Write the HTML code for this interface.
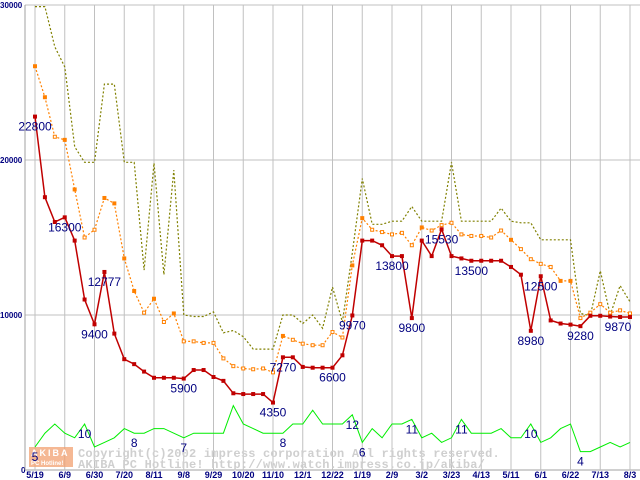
<!DOCTYPE html>
<html><head><meta charset="utf-8"><style>
html,body{margin:0;padding:0;background:#fff;}
svg{display:block;}
text{font-family:"Liberation Sans",sans-serif;}
</style></head><body>
<svg id="chart" width="640" height="480" viewBox="0 0 640 480" xmlns="http://www.w3.org/2000/svg">
<g id="grid"></g>
<g id="watermark">
<rect x="29" y="447" width="44" height="20" fill="#f2a070" opacity="0.75"/>
<text x="31" y="456" font-size="9" font-weight="bold" fill="#fff" letter-spacing="2">AKIBA</text>
<text x="31" y="465" font-size="6" font-weight="bold" fill="#fff">PC Hotline!</text>
<text x="78" y="457" font-size="12" font-weight="bold" fill="#cfcfcf" style="font-family:'Liberation Mono',monospace" letter-spacing="0.2">Copyright(c)2002 impress corporation All rights reserved.</text>
<text x="78" y="468" font-size="12" font-weight="bold" fill="#cfcfcf" style="font-family:'Liberation Mono',monospace" letter-spacing="0.2">AKIBA PC Hotline!  http://www.watch.impress.co.jp/akiba/</text>
</g>
<g id="series"></g>
<g id="labels"></g>
</svg>
<script>
const dates=["5/19","6/9","6/30","7/20","8/11","9/8","9/29","10/20","11/10","12/1","12/22","1/19","2/9","3/2","3/23","4/13","5/11","6/1","6/22","7/13","8/3"];
const yTicks=[0,10000,20000,30000];
const redVals=[22800,17600,16000,16300,14800,11000,9400,12777,8800,7150,6830,6350,5950,5950,5950,5900,6450,6450,6000,5750,4950,4900,4900,4900,4350,7270,7270,6650,6600,6600,6600,7400,9970,14800,14800,14500,13800,13800,9800,14800,13800,15530,13800,13650,13500,13500,13500,13500,13100,12600,8980,12500,9650,9450,9380,9280,9950,9950,9900,9870,9870];
const orangeVals=[26050,24050,21500,21300,18100,15000,15500,17550,17200,13650,11550,10150,11050,9550,10100,8300,8300,8200,8200,7200,6700,6550,6500,6550,6300,8650,8400,8150,8050,8050,8900,8550,13200,16250,15500,15350,15200,15300,14500,15650,15450,15800,15950,15200,15100,15100,15000,15450,14850,14250,13600,13300,13100,12200,12200,9800,10150,10700,10150,10300,10100];
const orangeFilled=[1,1,0,1,1,0,0,1,1,1,1,0,1,0,1,0,0,0,0,0,0,0,0,0,0,1,0,0,0,0,0,0,1,1,0,0,0,0,0,1,0,0,0,0,0,0,0,0,1,0,0,0,0,1,1,0,0,0,0,0,0];
const oliveVals=[29900,29900,27300,26000,20850,19850,19850,24900,24900,19850,19850,12900,19800,12600,19350,10000,9900,9900,10200,8850,9000,8600,7800,7800,7800,10000,10000,9450,10000,9150,11800,9550,14000,18800,15850,15850,16050,16050,17000,16050,16050,16050,19850,16050,16050,16050,16050,16900,16050,15950,15950,14850,14850,14850,14850,10100,9950,12850,10000,11900,10850];
const greenVals=[5,8,10,8,7,10,5,6,7,9,8,8,9,9,8,7,8,8,8,8,14,10,9,8,8,8,10,10,13,10,10,10,12,6,9,7,10,10,11,7,8,6,7,11,8,8,8,9,7,7,10,6,7,9,10,4,4,5,6,5,6];
const redLabelIdx=[0,3,6,7,15,24,25,30,32,36,38,41,44,50,51,55,60];
const greenLabelIdx=[0,5,10,15,25,32,33,38,43,50,55];

const NS="http://www.w3.org/2000/svg";
const X0=35,X1=630,Y0=470,Y1=5;
const n=redVals.length;
function xs(i){return X0+i*(X1-X0)/(n-1);}
function ys(v){return Y0-(v/30000)*(Y0-Y1);}
function gys(v){return Y0-v*4.6;}
function mk(tag,attrs,parent){const e=document.createElementNS(NS,tag);for(const k in attrs)e.setAttribute(k,attrs[k]);parent.appendChild(e);return e;}
const grid=document.getElementById('grid'),ser=document.getElementById('series'),lab=document.getElementById('labels');

yTicks.forEach(t=>{
  const l=mk('line',{x1:25,x2:640,y1:ys(t),y2:ys(t),stroke:t===0?'#a0a0a0':'#c0c0c0','stroke-width':1},grid);
  
  
  const tx=mk('text',{x:t===0?21:0,y:ys(t)+3,'font-size':8,'font-weight':'bold',fill:'#000080'},grid);
  tx.textContent=String(t);
  
  
});
const ax=mk('line',{x1:25,x2:25,y1:5,y2:470,stroke:'#a0a0a0'},grid);


dates.forEach((d,k)=>{
  const x=xs(k*3);
  const l=mk('line',{x1:x,x2:x,y1:5,y2:470,stroke:'#c0c0c0'},grid);
  
  
  const tx=mk('text',{x:x,y:478,'font-size':9,'text-anchor':'middle',fill:'#000080','font-weight':'bold'},grid);
  tx.textContent=d;
  
  
});
function pts(arr,f){return arr.map((v,i)=>xs(i).toFixed(1)+','+f(v).toFixed(1)).join(' ');}
const gl=mk('polyline',{points:pts(greenVals,gys),fill:'none',stroke:'#00ee00','stroke-width':1},ser);


const ol=mk('polyline',{points:pts(oliveVals,ys),fill:'none',stroke:'#808000','stroke-width':1.2,'stroke-dasharray':'2,2'},ser);


const orl=mk('polyline',{points:pts(orangeVals,ys),fill:'none',stroke:'#ff8000','stroke-width':1.2,'stroke-dasharray':'2,2'},ser);


orangeVals.forEach((v,i)=>{
  const f=orangeFilled[i];
  const r=mk('rect',{x:xs(i)-(f?2:1.5),y:ys(v)-(f?2:1.5),width:f?4:3,height:f?4:3,fill:f?'#ff8000':'#fff',stroke:'#ff8000','stroke-width':f?0:1},ser);
  
  
});
const rl=mk('polyline',{points:pts(redVals,ys),fill:'none',stroke:'#c00000','stroke-width':1.5},ser);


redVals.forEach((v,i)=>{
  const r=mk('rect',{x:xs(i)-2,y:ys(v)-2,width:4,height:4,fill:'#c00000'},ser);
  
  
});
redLabelIdx.forEach(i=>{
  let x=xs(i);if(x>618)x=618;
  const tx=mk('text',{x:x,y:ys(redVals[i])+14,'font-size':12,'text-anchor':'middle',fill:'#000080'},lab);
  tx.textContent=String(redVals[i]);
  
  
});
greenLabelIdx.forEach(i=>{
  const tx=mk('text',{x:xs(i),y:gys(greenVals[i])+14,'font-size':12,'text-anchor':'middle',fill:'#000080'},lab);
  tx.textContent=String(greenVals[i]);
  
  
});
</script>
</body></html>
